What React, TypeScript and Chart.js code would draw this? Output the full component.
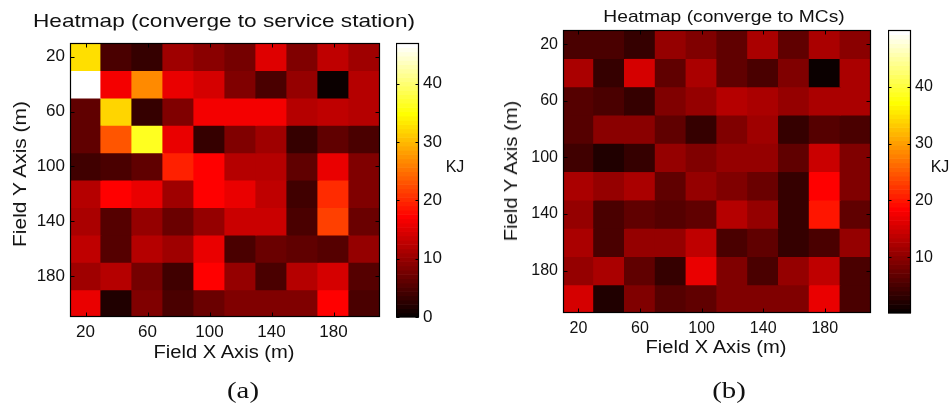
import React, { useEffect, useRef } from "react";
import { Chart, registerables } from "chart.js";

Chart.register(...registerables);

// ---------- data ----------
const xPositions = [20, 40, 60, 80, 100, 120, 140, 160, 180, 200];
const yPositions = [20, 40, 60, 80, 100, 120, 140, 160, 180, 200];
const axisTicks = [20, 60, 100, 140, 180];
const cellHalf = 10;

// energy (KJ) per cell, rows = y 20..200, columns = x 20..200
const stationEnergy = [
  [32.8, 5.0, 3.3, 11.0, 9.4, 7.7, 14.9, 8.4, 12.7, 10.5],
  [47.0, 16.8, 27.0, 16.0, 14.6, 8.3, 5.0, 9.7, 0.7, 12.1],
  [6.6, 32.3, 3.3, 8.8, 16.8, 16.8, 16.3, 12.4, 13.2, 12.4],
  [6.6, 23.2, 36.7, 16.0, 3.3, 8.8, 10.8, 3.3, 6.1, 5.0],
  [3.9, 5.0, 6.6, 19.3, 17.3, 12.4, 11.9, 6.6, 15.7, 8.6],
  [12.1, 17.1, 15.5, 10.5, 17.3, 16.0, 13.2, 3.9, 20.4, 8.6],
  [11.3, 5.8, 9.7, 7.2, 9.7, 13.8, 13.8, 5.0, 22.0, 7.2],
  [12.7, 5.8, 11.9, 11.0, 16.0, 4.7, 7.2, 6.4, 5.5, 10.2],
  [11.0, 12.4, 8.0, 3.9, 17.3, 9.7, 4.7, 12.1, 14.6, 5.5],
  [15.5, 1.7, 8.6, 4.7, 6.9, 8.6, 8.6, 8.6, 17.1, 4.7],
];

const mcEnergy = [
  [5.2, 5.2, 3.7, 10.5, 9.3, 7.2, 12.2, 7.2, 12.2, 10.2],
  [11.9, 3.7, 15.1, 6.9, 11.9, 7.2, 5.2, 9.0, 0.9, 12.2],
  [6.4, 5.2, 3.7, 9.3, 10.5, 13.4, 12.5, 10.7, 12.2, 12.2],
  [6.1, 10.2, 10.2, 6.9, 3.7, 9.3, 11.3, 3.7, 5.8, 5.5],
  [4.6, 2.2, 3.7, 10.5, 9.3, 10.7, 10.7, 7.2, 14.9, 9.0],
  [12.2, 10.5, 12.2, 6.9, 10.5, 9.3, 7.5, 3.7, 18.1, 9.0],
  [10.5, 4.9, 7.2, 5.8, 6.9, 13.4, 10.7, 3.7, 20.0, 7.2],
  [12.2, 5.2, 10.7, 10.5, 13.7, 5.2, 7.2, 3.7, 5.5, 10.7],
  [10.5, 11.9, 7.2, 3.7, 16.6, 9.3, 5.5, 10.5, 13.7, 5.5],
  [15.1, 2.2, 9.0, 5.8, 6.9, 9.3, 9.3, 9.3, 16.9, 5.5],
];

const stationRange = [0, 47];
const mcRange = [0.2, 50];
const stationBarTicks = [0, 10, 20, 30, 40];
const mcBarTicks = [10, 20, 30, 40];

// ---------- helpers ----------
const SANS = '"Liberation Sans", Arial, Helvetica, sans-serif';
const SERIF = '"Liberation Serif", "Times New Roman", serif';
const TEXT = "#111";
const LEVELS = 64;

function hotIndex(idx: number): string {
  const r = idx < 24 ? (idx + 1) / 24 : 1;
  const g = idx < 24 ? 0 : idx < 48 ? (idx - 23) / 24 : 1;
  const b = idx < 48 ? 0 : (idx - 47) / 16;
  return `rgb(${Math.round(r * 255)},${Math.round(g * 255)},${Math.round(b * 255)})`;
}

function hotColor(v: number, lo: number, hi: number): string {
  const t = (v - lo) / (hi - lo);
  const idx = Math.max(0, Math.min(LEVELS - 1, Math.floor(t * LEVELS)));
  return hotIndex(idx);
}

const frameTicksPlugin = {
  id: "frameTicks",
  afterDatasetsDraw(chart: any, _args: any, opts: any) {
    const { ctx, chartArea: a } = chart;
    const len = opts.len ?? 4;
    const L = Math.round(a.left) + 0.5;
    const R = Math.round(a.right) - 0.5;
    const T = Math.round(a.top) + 0.5;
    const B = Math.round(a.bottom) - 0.5;
    ctx.save();
    ctx.strokeStyle = "#000";
    ctx.lineWidth = 1;
    ctx.beginPath();
    if (opts.xTicks && chart.scales.x && chart.scales.x.options.display !== false) {
      for (const v of opts.xTicks) {
        const idx = xPositions.indexOf(v);
        const px = Math.round(chart.scales.x.getPixelForValue(idx)) + 0.5;
        ctx.moveTo(px, B);
        ctx.lineTo(px, B - len);
        ctx.moveTo(px, T);
        ctx.lineTo(px, T + len);
      }
    }
    if (opts.yTicks) {
      for (const v of opts.yTicks) {
        const py = Math.round(chart.scales.y.getPixelForValue(v)) + 0.5;
        ctx.moveTo(L, py);
        ctx.lineTo(L + len, py);
        ctx.moveTo(R, py);
        ctx.lineTo(R - len, py);
      }
    }
    ctx.stroke();
    ctx.lineWidth = 1.2;
    ctx.strokeRect(L, T, R - L, B - T);
    ctx.restore();
  },
};

const colorbarPlugin = {
  id: "colorbar",
  beforeDatasetsDraw(chart: any, _args: any, opts: any) {
    const { ctx, chartArea: a } = chart;
    const y = chart.scales.y;
    const [lo, hi] = opts.range;
    ctx.save();
    for (let i = 0; i < LEVELS; i++) {
      const v0 = lo + (i / LEVELS) * (hi - lo);
      const v1 = lo + ((i + 1) / LEVELS) * (hi - lo);
      const p0 = y.getPixelForValue(v0);
      const p1 = y.getPixelForValue(v1);
      ctx.fillStyle = hotIndex(i);
      ctx.fillRect(a.left, p1, a.right - a.left, p0 - p1 + 0.6);
    }
    ctx.restore();
  },
};

function heatmapConfig(matrix: number[][], range: number[], o: any) {
  const font = { family: SANS, size: o.tickSize };
  const datasets = yPositions.map((yv, r) => ({
    label: `y=${yv}`,
    data: xPositions.map(() => [yv - cellHalf, yv + cellHalf]),
    backgroundColor: matrix[r].map((v) => hotColor(v, range[0], range[1])),
    borderWidth: 0,
    inflateAmount: 0.6,
    grouped: false,
    barPercentage: 1,
    categoryPercentage: 1,
  }));
  return {
    type: "bar",
    data: { labels: xPositions.map(String), datasets },
    options: {
      responsive: false,
      animation: false,
      events: [],
      layout: { padding: o.padding },
      plugins: {
        legend: { display: false },
        tooltip: { enabled: false },
        title: { display: false },
        frameTicks: { xTicks: axisTicks, yTicks: axisTicks, len: 4 },
      },
      scales: {
        x: {
          type: "category",
          offset: true,
          grid: { display: false, drawTicks: false },
          border: { display: false },
          ticks: {
            autoSkip: false,
            maxRotation: 0,
            padding: o.xPad,
            font,
            color: TEXT,
            callback: (_v: any, i: number) =>
              axisTicks.includes(xPositions[i]) ? String(xPositions[i]) : "",
          },
          afterFit: (s: any) => {
            s.height = 30;
            s.paddingLeft = 0;
            s.paddingRight = 0;
          },
        },
        y: {
          type: "linear",
          reverse: true,
          min: 10,
          max: 210,
          grid: { display: false, drawTicks: false },
          border: { display: false },
          afterBuildTicks: (s: any) => {
            s.ticks = axisTicks.map((v) => ({ value: v }));
          },
          ticks: { padding: 5, font, color: TEXT },
          afterFit: (s: any) => {
            s.width = o.yWidth;
            s.paddingTop = 0;
            s.paddingBottom = 0;
          },
        },
      },
    },
    plugins: [frameTicksPlugin],
  };
}

function colorbarConfig(range: number[], ticks: number[], o: any) {
  return {
    type: "scatter",
    data: { datasets: [{ data: [] as any[] }] },
    options: {
      responsive: false,
      animation: false,
      events: [],
      layout: { padding: { top: 12, bottom: 12, left: 0, right: 0 } },
      plugins: {
        legend: { display: false },
        tooltip: { enabled: false },
        colorbar: { range },
        frameTicks: { yTicks: ticks, len: 3 },
      },
      scales: {
        x: { display: false, min: 0, max: 1 },
        y: {
          position: "right",
          min: range[0],
          max: range[1],
          grid: { display: false, drawTicks: false },
          border: { display: false },
          afterBuildTicks: (s: any) => {
            s.ticks = ticks.map((v) => ({ value: v }));
          },
          ticks: { padding: 4, font: { family: SANS, size: o.tickSize }, color: TEXT },
          afterFit: (s: any) => {
            s.width = o.axisWidth;
            s.paddingTop = 0;
            s.paddingBottom = 0;
          },
        },
      },
    },
    plugins: [colorbarPlugin, frameTicksPlugin],
  };
}

// ---------- components ----------
function ChartCanvas({ make, left, top, width, height }: any) {
  const ref = useRef<HTMLCanvasElement | null>(null);
  useEffect(() => {
    const chart = new Chart(ref.current as HTMLCanvasElement, make() as any);
    return () => chart.destroy();
  }, []);
  return (
    <canvas
      ref={ref}
      width={width}
      height={height}
      style={{ position: "absolute", left, top, width, height }}
    />
  );
}

function Label({ text, cx, cy, size, scale = 1, rotate = 0, serif = false }: any) {
  return (
    <div
      style={{
        position: "absolute",
        left: cx,
        top: cy,
        transform: `translate(-50%, -50%) rotate(${rotate}deg) scaleX(${scale})`,
        fontFamily: serif ? SERIF : SANS,
        fontSize: size,
        lineHeight: 1,
        whiteSpace: "nowrap",
        color: TEXT,
      }}
    >
      {text}
    </div>
  );
}

export default function App() {
  return (
    <div
      style={{
        position: "absolute",
        left: 0,
        top: 0,
        width: 949,
        height: 409,
        overflow: "hidden",
        background: "#fff",
      }}
    >
      {/* panel (a) */}
      <ChartCanvas
        left={0}
        top={0}
        width={390}
        height={360}
        make={() =>
          heatmapConfig(stationEnergy, stationRange, {
            tickSize: 17,
            xPad: 5,
            yWidth: 70,
            padding: { left: 0, top: 43, right: 10, bottom: 13 },
          })
        }
      />
      <ChartCanvas
        left={396}
        top={31}
        width={73}
        height={298}
        make={() => colorbarConfig(stationRange, stationBarTicks, { tickSize: 17, axisWidth: 50 })}
      />
      <Label text="Heatmap (converge to service station)" cx={224} cy={20} size={19} scale={1.19} />
      <Label text="Field X Axis (m)" cx={224} cy={352} size={18} scale={1.12} />
      <Label text="Field Y Axis (m)" cx={20} cy={174} size={18} scale={1.165} rotate={-90} />
      <Label text="KJ" cx={455} cy={167} size={16} />
      <Label text="(a)" cx={243} cy={390} size={24} scale={1.2} serif />

      {/* panel (b) */}
      <ChartCanvas
        left={493}
        top={0}
        width={388}
        height={360}
        make={() =>
          heatmapConfig(mcEnergy, mcRange, {
            tickSize: 16,
            xPad: 6,
            yWidth: 70,
            padding: { left: 0, top: 30, right: 10, bottom: 17 },
          })
        }
      />
      <ChartCanvas
        left={888}
        top={18}
        width={60}
        height={307}
        make={() => colorbarConfig(mcRange, mcBarTicks, { tickSize: 16, axisWidth: 37 })}
      />
      <Label text="Heatmap (converge to MCs)" cx={724} cy={15.5} size={17} scale={1.13} />
      <Label text="Field X Axis (m)" cx={716} cy={347} size={18} scale={1.12} />
      <Label text="Field Y Axis (m)" cx={511} cy={171} size={18} scale={1.12} rotate={-90} />
      <Label text="KJ" cx={940} cy={167} size={16} />
      <Label text="(b)" cx={729} cy={390} size={24} scale={1.2} serif />
    </div>
  );
}
